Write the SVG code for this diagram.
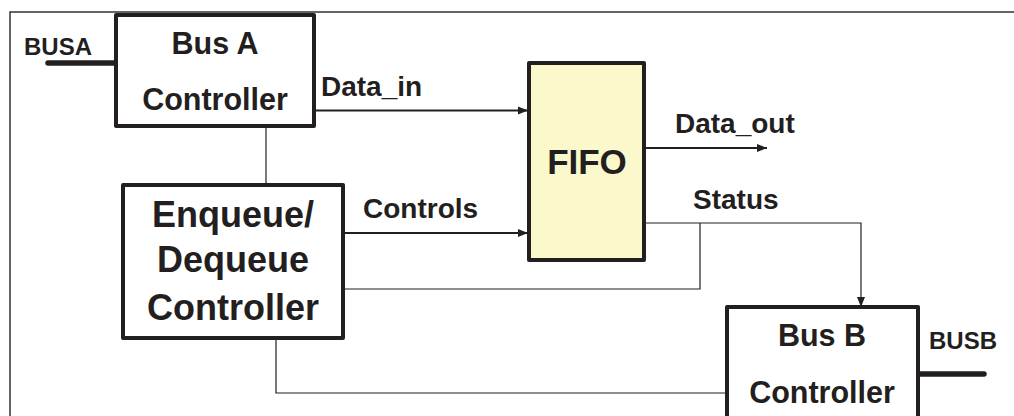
<svg xmlns="http://www.w3.org/2000/svg" width="1014" height="416" viewBox="0 0 1014 416">
  <defs>
    <marker id="arrow" viewBox="0 0 10 10" refX="10" refY="5" markerWidth="10" markerHeight="10" markerUnits="userSpaceOnUse" orient="auto">
      <path d="M0,1 L10,5 L0,9 Z" fill="#231f20"/>
    </marker>
    <style>
      text { font-family: "Liberation Sans", Arial, sans-serif; font-weight: bold; fill: #231f20; }
      .box { fill: #fff; stroke: #231f20; stroke-width: 4; stroke-linejoin: round; }
      .wire { fill: none; stroke: #231f20; stroke-width: 1.2; }
      .sig { fill: none; stroke: #231f20; stroke-width: 2.2; }
      .bus { fill: none; stroke: #231f20; stroke-width: 5.5; stroke-linecap: round; }
      .lbl { font-size: 28px; }
      .port { font-size: 24px; }
      .big { font-size: 30.5px; text-anchor: middle; }
      .huge { font-size: 36px; text-anchor: middle; }
    </style>
  </defs>
  <rect width="1014" height="416" fill="#fff"/>
  <!-- frame -->
  <path d="M10,416 V12 H1014" fill="none" stroke="#333" stroke-width="1.5"/>

  <g id="connectors">
    <!-- Bus A to Enqueue/Dequeue -->
    <path class="wire" d="M266,126 V185"/>
    <!-- Data_in -->
    <path class="sig" d="M314,110.5 H528" marker-end="url(#arrow)"/>
    <!-- Controls -->
    <path class="sig" d="M343,233 H528" marker-end="url(#arrow)"/>
    <!-- Data_out -->
    <path class="sig" d="M644,148 H767" marker-end="url(#arrow)"/>
    <!-- Status -->
    <path class="wire" d="M644,223 H861 V307" marker-end="url(#arrow)"/>
    <path class="wire" d="M700,223 V289 H343"/>
    <!-- Enqueue/Dequeue to Bus B -->
    <path class="wire" d="M276,338 V393 H727"/>
    <!-- external buses -->
    <path class="bus" d="M48,63 H116"/>
    <path class="bus" d="M918,374 H984"/>
  </g>

  <text class="port" x="24" y="55">BUSA</text>
  <text class="lbl" x="321" y="96">Data_in</text>
  <text class="lbl" x="363" y="218">Controls</text>
  <text class="lbl" x="675" y="133">Data_out</text>
  <text class="lbl" x="693" y="209">Status</text>
  <text class="port" x="929" y="349">BUSB</text>

  <g id="bus-a-controller">
    <rect class="box" x="116" y="15" width="198" height="111"/>
    <text class="big" x="215" y="54">Bus A</text>
    <text class="big" x="215" y="110">Controller</text>
  </g>

  <g id="fifo">
    <rect class="box" x="529" y="63" width="115" height="197" style="fill:#fbf9cb"/>
    <text x="587" y="174" font-size="35" text-anchor="middle">FIFO</text>
  </g>

  <g id="enqueue-dequeue-controller">
    <rect class="box" x="123" y="185" width="220" height="153"/>
    <text class="huge" x="233" y="227">Enqueue/</text>
    <text class="huge" x="233" y="272">Dequeue</text>
    <text class="huge" x="233" y="320">Controller</text>
  </g>

  <g id="bus-b-controller">
    <rect class="box" x="727" y="307" width="191" height="130"/>
    <text class="big" x="822" y="346">Bus B</text>
    <text class="big" x="822" y="403">Controller</text>
  </g>
</svg>
